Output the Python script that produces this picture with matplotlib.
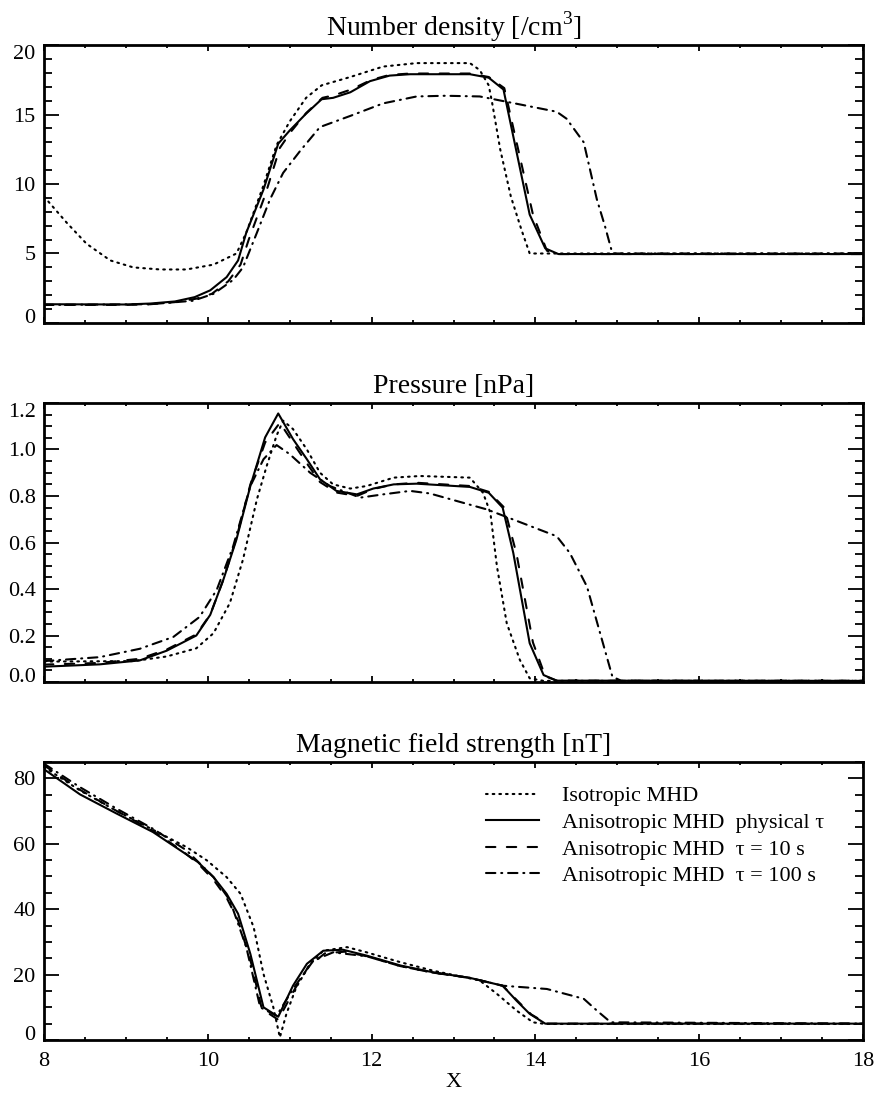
import matplotlib
matplotlib.use("Agg")
import matplotlib.pyplot as plt
from matplotlib.ticker import MultipleLocator

plt.rcParams['font.family'] = ['Liberation Serif', 'DejaVu Serif']
plt.rcParams['mathtext.fontset'] = 'custom'
plt.rcParams['mathtext.rm'] = 'Liberation Serif'

# ---------------- data ----------------
# Panel 1: number density
n_iso_x = [8.0, 8.28, 8.52, 8.81, 9.09, 9.42, 9.74, 10.07, 10.35, 10.47, 10.68, 10.84, 11.0, 11.2, 11.39, 11.74, 12.14, 12.55, 13.2, 13.32, 13.43, 13.47, 13.57, 13.70, 13.83, 13.93, 18.0]
n_iso_y = [9.1, 7.2, 5.7, 4.5, 4.0, 3.85, 3.85, 4.2, 5.0, 6.5, 9.9, 12.8, 14.5, 16.2, 17.1, 17.7, 18.45, 18.7, 18.7, 18.2, 17.1, 15.9, 12.5, 9.1, 6.7, 5.0, 5.0]
n_phys_x = [8.0, 9.0, 9.3, 9.6, 9.84, 10.03, 10.23, 10.37, 10.47, 10.68, 10.86, 11.0, 11.2, 11.39, 11.53, 11.74, 11.98, 12.22, 12.47, 13.2, 13.43, 13.61, 13.93, 14.12, 14.28, 18.0]
n_phys_y = [1.35, 1.33, 1.4, 1.55, 1.86, 2.35, 3.3, 4.5, 6.5, 9.6, 12.9, 13.85, 15.06, 16.1, 16.2, 16.6, 17.4, 17.8, 17.9, 17.9, 17.65, 16.8, 7.8, 5.37, 4.96, 4.96]
n_t10_x = [8.0, 9.0, 9.3, 9.6, 9.86, 10.05, 10.25, 10.4, 10.5, 10.7, 10.88, 11.02, 11.2, 11.4, 11.55, 11.75, 12.0, 12.22, 12.47, 13.2, 13.43, 13.62, 13.97, 14.14, 14.28, 18.0]
n_t10_y = [1.3, 1.3, 1.35, 1.5, 1.75, 2.1, 3.0, 4.2, 6.0, 9.2, 12.6, 13.8, 15.1, 16.2, 16.4, 16.8, 17.5, 17.85, 17.95, 17.95, 17.7, 16.9, 7.8, 5.2, 4.96, 4.96]
n_t100_x = [8.0, 9.3, 9.82, 10.07, 10.31, 10.43, 10.6, 10.76, 10.92, 11.13, 11.37, 11.74, 12.14, 12.55, 12.9, 13.32, 13.45, 14.26, 14.38, 14.59, 14.75, 14.85, 14.94, 18.0]
n_t100_y = [1.3, 1.35, 1.6, 2.1, 3.1, 4.0, 6.5, 8.9, 10.8, 12.4, 14.1, 14.9, 15.8, 16.3, 16.35, 16.3, 16.15, 15.2, 14.7, 13.0, 8.9, 6.95, 5.0, 5.0]

# Panel 2: pressure
p_iso_x = [8.0, 9.09, 9.5, 9.86, 10.07, 10.27, 10.43, 10.6, 10.72, 10.84, 10.92, 11.04, 11.21, 11.37, 11.53, 11.74, 11.94, 12.27, 12.59, 13.2, 13.36, 13.45, 13.53, 13.65, 13.81, 13.93, 14.1, 18.0]
p_iso_y = [0.088, 0.09, 0.11, 0.145, 0.21, 0.34, 0.527, 0.786, 0.93, 1.06, 1.124, 1.088, 1.0, 0.9, 0.85, 0.832, 0.843, 0.879, 0.886, 0.879, 0.814, 0.728, 0.498, 0.253, 0.095, 0.016, 0.005, 0.005]
p_phys_x = [8.0, 8.68, 9.17, 9.5, 9.86, 10.03, 10.19, 10.35, 10.52, 10.7, 10.86, 11.04, 11.21, 11.37, 11.57, 11.82, 12.02, 12.27, 12.55, 13.2, 13.43, 13.6, 13.73, 13.93, 14.1, 14.26, 18.0]
p_phys_y = [0.066, 0.076, 0.093, 0.135, 0.2, 0.289, 0.44, 0.613, 0.843, 1.052, 1.155, 1.045, 0.958, 0.872, 0.822, 0.807, 0.832, 0.85, 0.853, 0.839, 0.814, 0.75, 0.555, 0.167, 0.03, 0.006, 0.005]
p_t10_x = [8.0, 8.68, 9.17, 9.5, 9.86, 10.03, 10.19, 10.35, 10.52, 10.7, 10.88, 11.04, 11.21, 11.37, 11.57, 11.82, 12.02, 12.27, 12.55, 13.2, 13.43, 13.62, 13.77, 13.97, 14.12, 14.26, 18.0]
p_t10_y = [0.075, 0.082, 0.1, 0.14, 0.205, 0.29, 0.44, 0.62, 0.85, 1.03, 1.115, 1.03, 0.94, 0.86, 0.815, 0.8, 0.83, 0.85, 0.857, 0.843, 0.818, 0.75, 0.55, 0.17, 0.025, 0.006, 0.005]
p_t100_x = [8.0, 8.68, 9.17, 9.58, 9.9, 10.11, 10.31, 10.52, 10.68, 10.84, 11.0, 11.25, 11.49, 11.86, 12.14, 12.47, 12.71, 13.41, 14.26, 14.42, 14.63, 14.79, 14.94, 15.05, 18.0]
p_t100_y = [0.09, 0.107, 0.143, 0.194, 0.28, 0.397, 0.584, 0.843, 0.958, 1.019, 0.98, 0.9, 0.843, 0.793, 0.807, 0.822, 0.811, 0.742, 0.627, 0.555, 0.41, 0.21, 0.023, 0.005, 0.005]

# Panel 3: magnetic field strength
b_iso_x = [8.0, 8.44, 8.89, 9.33, 9.74, 9.99, 10.23, 10.4, 10.56, 10.68, 10.8, 10.88, 10.96, 11.08, 11.25, 11.41, 11.7, 11.94, 12.35, 12.75, 13.32, 13.53, 13.77, 13.97, 14.12, 18.0]
b_iso_y = [83.5, 76.3, 70.0, 64.3, 59.0, 54.9, 49.8, 44.7, 34.5, 20.2, 10.0, 0.8, 8.0, 16.1, 23.3, 27.3, 28.4, 26.8, 23.8, 21.2, 18.2, 14.1, 9.0, 5.4, 4.9, 4.9]
b_phys_x = [8.0, 8.44, 8.89, 9.33, 9.7, 9.88, 10.07, 10.23, 10.37, 10.52, 10.68, 10.86, 11.04, 11.21, 11.41, 11.65, 11.94, 12.35, 12.75, 13.2, 13.6, 13.77, 13.93, 14.12, 18.0]
b_phys_y = [82.8, 75.1, 69.2, 63.6, 57.4, 54.4, 49.8, 44.7, 38.6, 26.3, 10.0, 7.1, 16.6, 23.3, 27.3, 27.6, 25.8, 22.8, 20.7, 19.0, 16.6, 12.0, 8.0, 5.0, 5.0]
b_t10_x = [8.0, 8.44, 8.89, 9.33, 9.7, 9.88, 10.07, 10.23, 10.37, 10.52, 10.66, 10.86, 11.06, 11.23, 11.43, 11.67, 11.94, 12.35, 12.75, 13.2, 13.6, 13.8, 13.95, 14.14, 18.0]
b_t10_y = [84.0, 76.5, 70.0, 64.0, 57.6, 54.0, 49.0, 43.5, 36.5, 24.5, 9.5, 6.2, 15.5, 22.5, 26.5, 27.0, 25.6, 22.6, 20.6, 19.0, 16.6, 11.5, 7.8, 5.0, 5.0]
b_t100_x = [8.0, 8.44, 8.89, 9.33, 9.74, 10.07, 10.27, 10.47, 10.64, 10.84, 11.04, 11.29, 11.53, 11.94, 12.35, 12.75, 13.2, 13.6, 14.14, 14.59, 14.75, 14.92, 18.0]
b_t100_y = [84.5, 77.3, 70.7, 64.6, 58.0, 49.8, 42.7, 28.4, 10.0, 7.4, 15.6, 24.3, 26.8, 25.6, 22.6, 20.6, 19.0, 16.6, 15.6, 12.6, 9.0, 5.4, 5.0]

titles = ["Number density [/cm$^3$]", "Pressure [nPa]", "Magnetic field strength [nT]"]
labels = ["Isotropic MHD", "Anisotropic MHD  physical \u03c4",
          "Anisotropic MHD  \u03c4 = 10 s", "Anisotropic MHD  \u03c4 = 100 s"]
ylims = [(0, 20), (0, 1.2), (0, 85)]
yticks = [[0, 5, 10, 15, 20],
          [0.0, 0.2, 0.4, 0.6, 0.8, 1.0, 1.2],
          [0, 20, 40, 60, 80]]
ytick_labels = [["0", "5", "10", "15", "20"],
                ["0.0", "0.2", "0.4", "0.6", "0.8", "1.0", "1.2"],
                ["0", "20", "40", "60", "80"]]
yminor = [1, 0.05, 5]
xticks = [8, 10, 12, 14, 16, 18]

panels = [
    [(n_iso_x, n_iso_y), (n_phys_x, n_phys_y), (n_t10_x, n_t10_y), (n_t100_x, n_t100_y)],
    [(p_iso_x, p_iso_y), (p_phys_x, p_phys_y), (p_t10_x, p_t10_y), (p_t100_x, p_t100_y)],
    [(b_iso_x, b_iso_y), (b_phys_x, b_phys_y), (b_t10_x, b_t10_y), (b_t100_x, b_t100_y)],
]

styles = [dict(linestyle=(0, (0.8, 2.4))),
          dict(linestyle='-'),
          dict(linestyle=(0, (4.5, 5.5))),
          dict(linestyle=(0, (4.5, 2.8, 0.5, 2.8)))]

fig = plt.figure(figsize=(8.76, 10.93), dpi=100)
positions = [[0.0502, 0.7045, 0.935, 0.2543],
             [0.0502, 0.376, 0.935, 0.2553],
             [0.0502, 0.0485, 0.935, 0.2543]]

for i, pos in enumerate(positions):
    ax = fig.add_axes(pos)
    for (xs, ys), st, lab in zip(panels[i], styles, labels):
        ax.plot(xs, ys, color='black', lw=1.5, label=lab,
                dash_capstyle='round', **st)
    ax.set_xlim(8, 18)
    ax.set_xticks(xticks)
    ax.xaxis.set_minor_locator(MultipleLocator(0.5))
    ax.set_yticks(yticks[i])
    ax.set_yticklabels(ytick_labels[i])
    ax.yaxis.set_minor_locator(MultipleLocator(yminor[i]))
    ax.set_ylim(*ylims[i])
    ax.tick_params(axis='both', which='both', direction='in', top=True, right=True,
                   width=1.3, colors='black')
    ax.tick_params(axis='y', which='major', length=11, pad=6, labelsize=16)
    ax.tick_params(axis='y', which='minor', length=5.5)
    ax.tick_params(axis='x', which='major', length=4.5, pad=9, labelsize=16)
    ax.tick_params(axis='x', which='minor', length=2.5)
    # keep end labels inside the axis span, as in the original
    yt = ax.yaxis.get_major_ticks()
    yt[0].label1.set_verticalalignment('baseline')
    if yticks[i][-1] == ylims[i][1]:
        yt[-1].label1.set_verticalalignment('top')
    for sp in ax.spines.values():
        sp.set_linewidth(2)
    ax.set_title(titles[i], fontsize=20, pad=7)
    if i < 2:
        ax.tick_params(axis='x', labelbottom=False)
    else:
        ax.set_xlabel("X", fontsize=16, labelpad=1)
        ax.legend(loc='upper right', bbox_to_anchor=(0.971, 0.97), frameon=False,
                  fontsize=16, handlelength=2.4, handletextpad=1.0,
                  labelspacing=0.27, borderpad=0.2)

fig.savefig("out.png", dpi=100)
